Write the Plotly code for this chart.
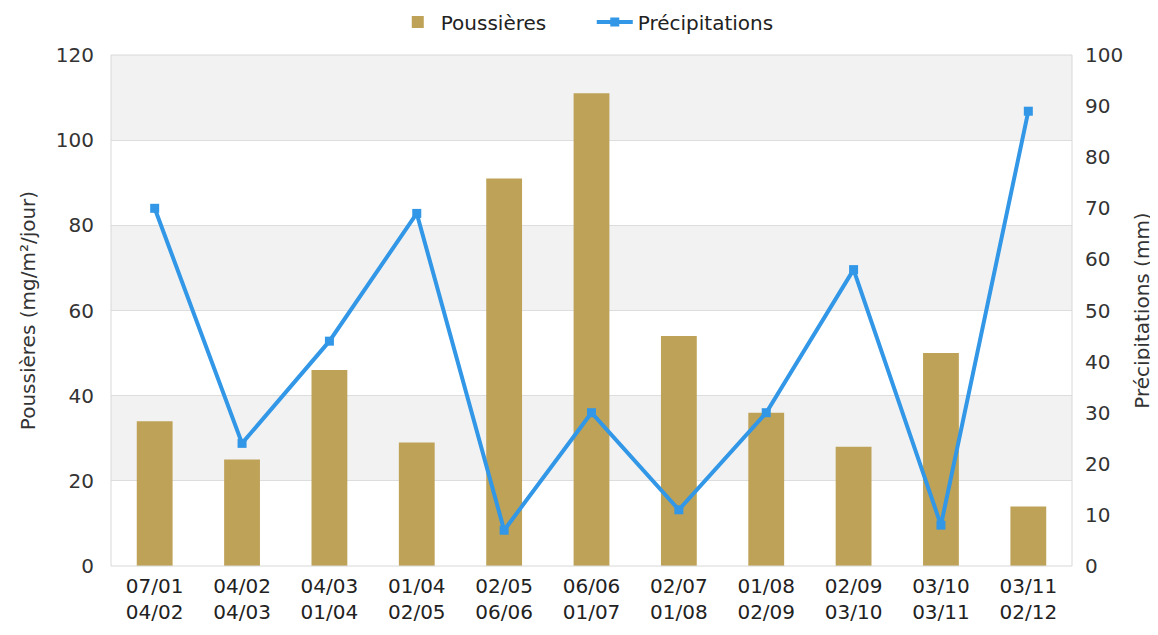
import plotly.graph_objects as go

periods = ["07/01<br>04/02", "04/02<br>04/03", "04/03<br>01/04", "01/04<br>02/05",
           "02/05<br>06/06", "06/06<br>01/07", "02/07<br>01/08", "01/08<br>02/09",
           "02/09<br>03/10", "03/10<br>03/11", "03/11<br>02/12"]
poussieres = [34, 25, 46, 29, 91, 111, 54, 36, 28, 50, 14]
precipitations = [70, 24, 44, 69, 7, 30, 11, 30, 58, 8, 89]

left_ticks = [0, 20, 40, 60, 80, 100, 120]
right_ticks = [0, 10, 20, 30, 40, 50, 60, 70, 80, 90, 100]
bands = [(20, 40), (60, 80), (100, 120)]

BAR = "#BEA257"
LINE = "#3197E6"
FONT = "DejaVu Sans"
FS = 20

fig = go.Figure()
fig.add_trace(go.Bar(x=periods, y=poussieres, name="Poussières",
                     marker=dict(color=BAR, line=dict(width=0)), yaxis="y"))
fig.add_trace(go.Scatter(x=periods, y=precipitations, name="Précipitations",
                         mode="lines+markers", yaxis="y2",
                         line=dict(color=LINE, width=4),
                         marker=dict(symbol="square", size=9, color=LINE)))

shapes = []
for a, b in bands:
    shapes.append(dict(type="rect", xref="paper", yref="y", x0=0, x1=1, y0=a, y1=b,
                       fillcolor="#F2F2F2", line=dict(width=0), layer="below"))
shapes.append(dict(type="rect", xref="paper", yref="paper", x0=0, x1=1, y0=0, y1=1,
                   fillcolor="rgba(0,0,0,0)", line=dict(color="#D8D8D8", width=1), layer="above"))

fig.update_layout(
    width=1158, height=635,
    margin=dict(l=103, r=94, t=47, b=77, autoexpand=False),
    paper_bgcolor="white", plot_bgcolor="white",
    font=dict(family=FONT, size=FS, color="#333333"),
    bargap=0.59,
    shapes=shapes,
    showlegend=True,
    legend=dict(orientation="h", xref="container", yref="container",
                x=0.334, xanchor="left", y=0.978, yanchor="middle",
                bgcolor="rgba(0,0,0,0)", entrywidth=146, entrywidthmode="pixels",
                font=dict(family=FONT, size=FS, color="#222222"),
                itemwidth=36, traceorder="normal"),
    xaxis=dict(type="category", range=[-0.5, len(periods) - 0.5],
               showgrid=False, zeroline=False, showline=False,
               ticks="", ticklabelstandoff=6,
               tickfont=dict(family=FONT, size=FS, color="#222222")),
    yaxis=dict(range=[0, 120], tickvals=left_ticks, showgrid=True, gridcolor="#DDDDDD",
               gridwidth=1, zeroline=False, showline=False, ticks="",
               ticklabelstandoff=16,
               title=dict(text="Poussières (mg/m²/jour)", font=dict(family=FONT, size=FS, color="#333333"), standoff=14),
               tickfont=dict(family=FONT, size=FS, color="#333333")),
    yaxis2=dict(range=[0, 100], tickvals=right_ticks, overlaying="y", side="right",
                showgrid=False, zeroline=False, showline=False, ticks="",
                ticklabelstandoff=12,
                title=dict(text="Précipitations (mm)", font=dict(family=FONT, size=FS, color="#333333"), standoff=12),
                tickfont=dict(family=FONT, size=FS, color="#333333")),
)

fig.write_html("out.html")
